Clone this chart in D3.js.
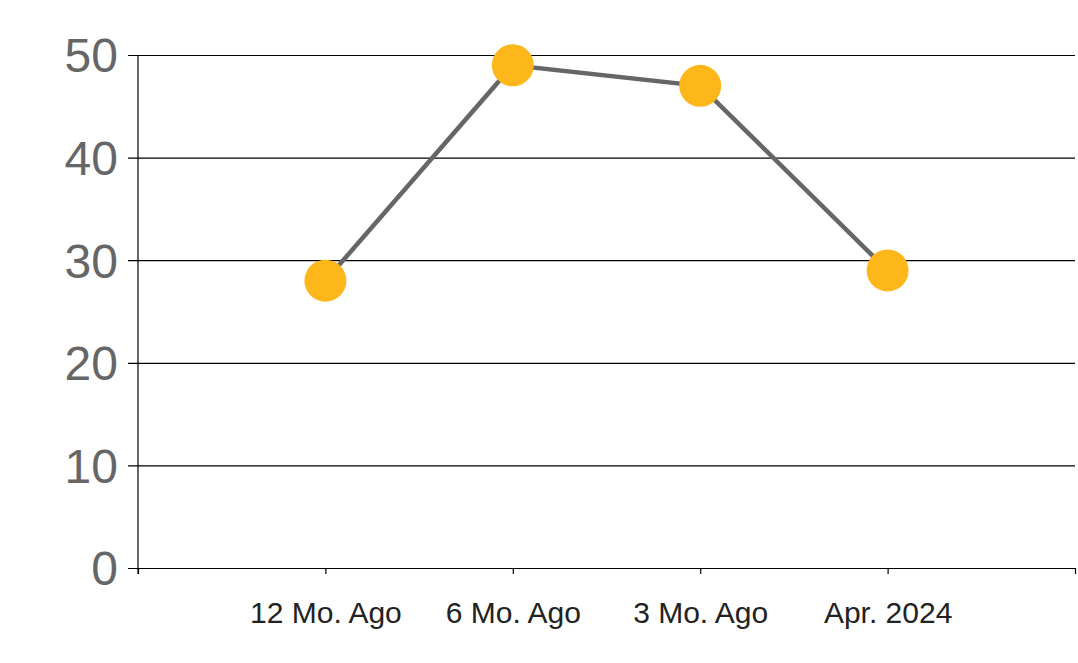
<!DOCTYPE html>
<html><head><meta charset="utf-8">
<script src="https://cdn.jsdelivr.net/npm/d3@7"></script>
<style>html,body{margin:0;padding:0;background:#fff;}svg{display:block;}</style>
</head><body>
<svg id="chart" width="1078" height="663"></svg>
<script>
const categories = ["12 Mo. Ago", "6 Mo. Ago", "3 Mo. Ago", "Apr. 2024"];
const values = [28, 49, 47, 29];
const yTicks = [0, 10, 20, 30, 40, 50];

(function () {
const svg = d3.select("#chart");
const mLeft = 138, mRight = 1075, mTop = 55, mBottom = 568;
const domain = ["_start", ...categories, "_end"];
const x = d3.scalePoint().domain(domain).range([mLeft, mRight]).padding(0);
const y = d3.scaleLinear().domain([0, 50]).range([mBottom, mTop]);
const font = "'Liberation Sans', Arial, sans-serif";

// gridlines + y axis
const yAxis = d3.axisLeft(y).tickValues(yTicks).tickSize(-(mRight - mLeft)).tickPadding(0).tickFormat(d => d);
const gy = svg.append("g").attr("transform", `translate(${mLeft},0)`).call(yAxis);
gy.select(".domain").remove();
gy.selectAll(".tick line").attr("stroke", "#000").attr("stroke-width", 1.2).attr("x1", -10).attr("x2", mRight - mLeft);
gy.selectAll(".tick text").attr("x", -20).attr("dy", "0.35em").attr("fill", "#666")
  .style("font-family", font).style("font-size", "48px");
svg.append("line").attr("x1", mLeft).attr("x2", mLeft).attr("y1", mTop).attr("y2", mBottom + 6)
  .attr("stroke", "#000").attr("stroke-width", 1.2);

// x axis
const xAxis = d3.axisBottom(x).tickSize(6).tickPadding(0).tickFormat(d => d.startsWith("_") ? "" : d);
const gx = svg.append("g").attr("transform", `translate(0,${mBottom})`).call(xAxis);
gx.select(".domain").remove();
gx.selectAll(".tick line").attr("stroke", "#000").attr("stroke-width", 1.2);
gx.selectAll(".tick text").attr("y", 55).attr("dy", 0).attr("fill", "#222")
  .style("font-family", font).style("font-size", "30px");

// line
const data = categories.map((c, i) => ({c, v: values[i]}));
svg.append("path").datum(data)
  .attr("fill", "none").attr("stroke", "#666").attr("stroke-width", 4.5)
  .attr("d", d3.line().x(d => x(d.c)).y(d => y(d.v)));
svg.selectAll("circle.pt").data(data).enter().append("circle").attr("class", "pt")
  .attr("cx", d => x(d.c)).attr("cy", d => y(d.v)).attr("r", 21).attr("fill", "#FDB71A");
})();
</script>
</body></html>
